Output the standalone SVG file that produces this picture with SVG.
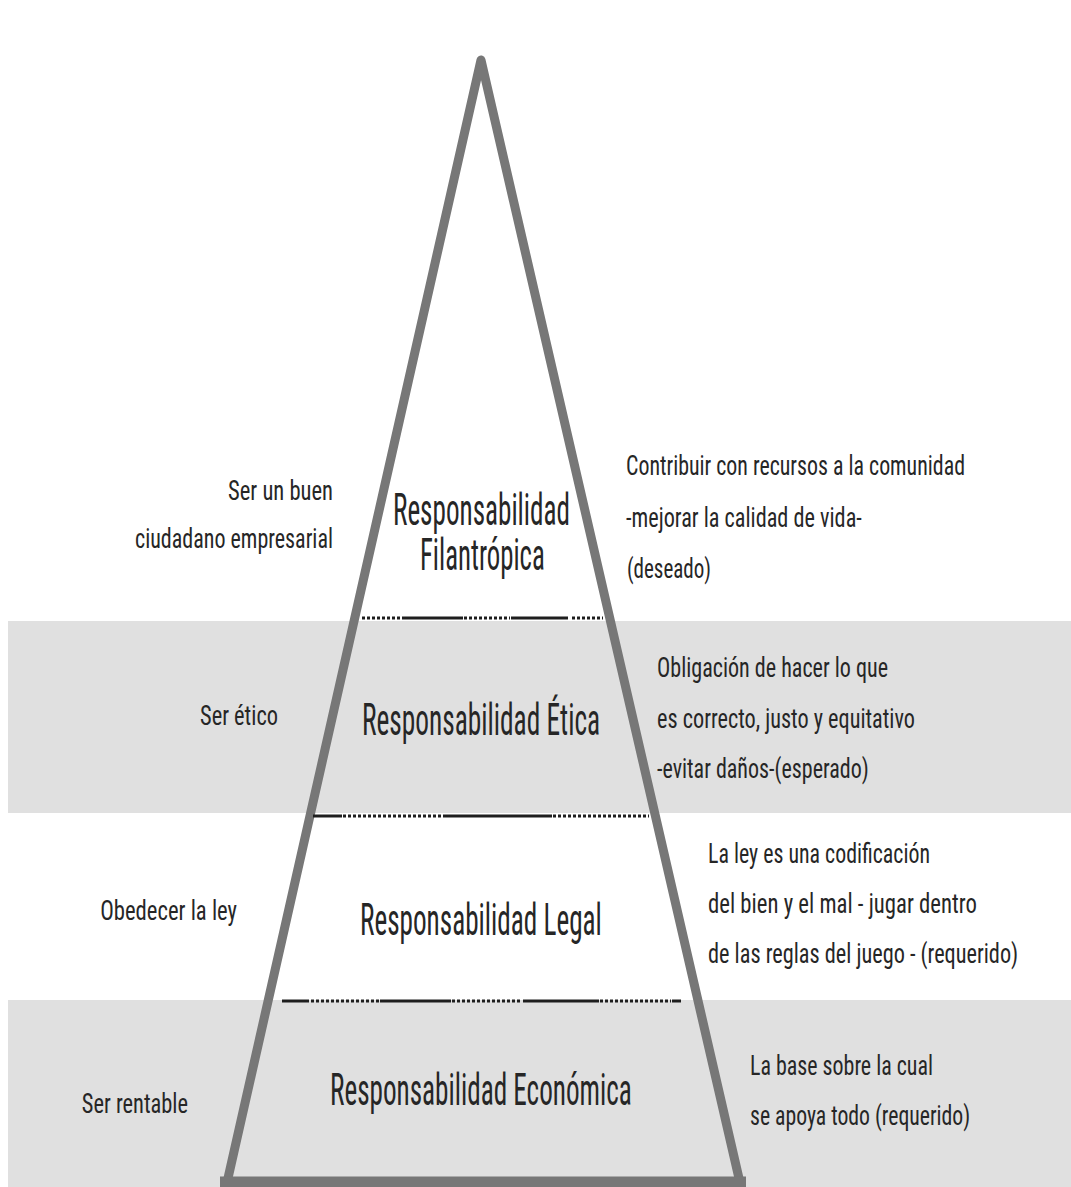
<svg xmlns="http://www.w3.org/2000/svg" width="1071" height="1187" viewBox="0 0 1071 1187">
<style>
text{font-family:"Roboto Condensed",Roboto,"Liberation Sans",sans-serif;fill:#262626;}
.big{font-size:44px;}
.sm{font-size:28px;}
.band{fill:#e0e0e0;}
.solid{stroke:#1e1e1e;stroke-width:3;}
.dot{stroke:#1e1e1e;stroke-width:3;stroke-dasharray:3 2;}
.edge{fill:none;stroke:#777;stroke-width:9;stroke-linejoin:round;}
</style>
<rect width="1071" height="1187" fill="#fff"/>
<g id="bands">
<rect class="band" x="8" y="621" width="1063" height="192"/>
<rect class="band" x="8" y="1000" width="1063" height="187"/>
</g>
<g id="pyramid">
<polyline class="edge" points="226,1187 481,60 741,1187"/>
<line x1="220" y1="1182" x2="746" y2="1182" stroke="#777" stroke-width="11"/>
</g>
<g id="connectors">
<line class="dot" x1="362" y1="618" x2="403" y2="618"/>
<line class="solid" x1="403" y1="618" x2="463" y2="618"/>
<line class="dot" x1="464" y1="618" x2="510" y2="618"/>
<line class="solid" x1="511" y1="618" x2="568" y2="618"/>
<line class="dot" x1="572" y1="618" x2="603" y2="618"/>

<line class="solid" x1="313" y1="816" x2="342" y2="816"/>
<line class="dot" x1="343" y1="816" x2="442" y2="816"/>
<line class="solid" x1="443" y1="816" x2="552" y2="816"/>
<line class="dot" x1="553" y1="816" x2="649" y2="816"/>

<line class="solid" x1="282" y1="1001" x2="309" y2="1001"/>
<line class="dot" x1="311" y1="1001" x2="379" y2="1001"/>
<line class="solid" x1="380" y1="1001" x2="451" y2="1001"/>
<line class="dot" x1="452" y1="1001" x2="522" y2="1001"/>
<line class="solid" x1="523" y1="1001" x2="599" y2="1001"/>
<line class="dot" x1="600" y1="1001" x2="671" y2="1001"/>
<line class="solid" x1="672" y1="1001" x2="681" y2="1001"/>
</g>
<g id="filantropica">
<text class="big" transform="translate(393,525) scale(0.6,1)"><tspan x="0" y="0" textLength="295" lengthAdjust="spacingAndGlyphs">Responsabilidad</tspan><tspan x="45" y="45" textLength="208" lengthAdjust="spacingAndGlyphs">Filantrópica</tspan></text>
<text class="sm" transform="translate(333,500) scale(0.6,1)" text-anchor="end" textLength="175" lengthAdjust="spacingAndGlyphs">Ser un buen</text>
<text class="sm" transform="translate(333,548) scale(0.6,1)" text-anchor="end" textLength="330" lengthAdjust="spacingAndGlyphs">ciudadano empresarial</text>
<text class="sm" transform="translate(626,475) scale(0.6,1)" textLength="565" lengthAdjust="spacingAndGlyphs">Contribuir con recursos a la comunidad</text>
<text class="sm" transform="translate(626,527) scale(0.6,1)" textLength="393" lengthAdjust="spacingAndGlyphs">-mejorar la calidad de vida-</text>
<text class="sm" transform="translate(627,578) scale(0.6,1)" textLength="140" lengthAdjust="spacingAndGlyphs">(deseado)</text>
</g>
<g id="etica">
<text class="big" transform="translate(362,735) scale(0.6,1)" textLength="397" lengthAdjust="spacingAndGlyphs">Responsabilidad Ética</text>
<text class="sm" transform="translate(278,725) scale(0.6,1)" text-anchor="end" textLength="130" lengthAdjust="spacingAndGlyphs">Ser ético</text>
<text class="sm" transform="translate(657,677) scale(0.6,1)" textLength="385" lengthAdjust="spacingAndGlyphs">Obligación de hacer lo que</text>
<text class="sm" transform="translate(657,728) scale(0.6,1)" textLength="430" lengthAdjust="spacingAndGlyphs">es correcto, justo y equitativo</text>
<text class="sm" transform="translate(657,778) scale(0.6,1)" textLength="353" lengthAdjust="spacingAndGlyphs">-evitar daños-(esperado)</text>
</g>
<g id="legal">
<text class="big" transform="translate(360,935) scale(0.6,1)" textLength="403" lengthAdjust="spacingAndGlyphs">Responsabilidad Legal</text>
<text class="sm" transform="translate(237,920) scale(0.6,1)" text-anchor="end" textLength="228" lengthAdjust="spacingAndGlyphs">Obedecer la ley</text>
<text class="sm" transform="translate(708,863) scale(0.6,1)" textLength="370" lengthAdjust="spacingAndGlyphs">La ley es una codificación</text>
<text class="sm" transform="translate(708,913) scale(0.6,1)" textLength="448" lengthAdjust="spacingAndGlyphs">del bien y el mal - jugar dentro</text>
<text class="sm" transform="translate(708,963) scale(0.6,1)" textLength="517" lengthAdjust="spacingAndGlyphs">de las reglas del juego - (requerido)</text>
</g>
<g id="economica">
<text class="big" transform="translate(330,1105) scale(0.6,1)" textLength="503" lengthAdjust="spacingAndGlyphs">Responsabilidad Económica</text>
<text class="sm" transform="translate(188,1113) scale(0.6,1)" text-anchor="end" textLength="177" lengthAdjust="spacingAndGlyphs">Ser rentable</text>
<text class="sm" transform="translate(750,1075) scale(0.6,1)" textLength="305" lengthAdjust="spacingAndGlyphs">La base sobre la cual</text>
<text class="sm" transform="translate(750,1125) scale(0.6,1)" textLength="367" lengthAdjust="spacingAndGlyphs">se apoya todo (requerido)</text>
</g>
</svg>
